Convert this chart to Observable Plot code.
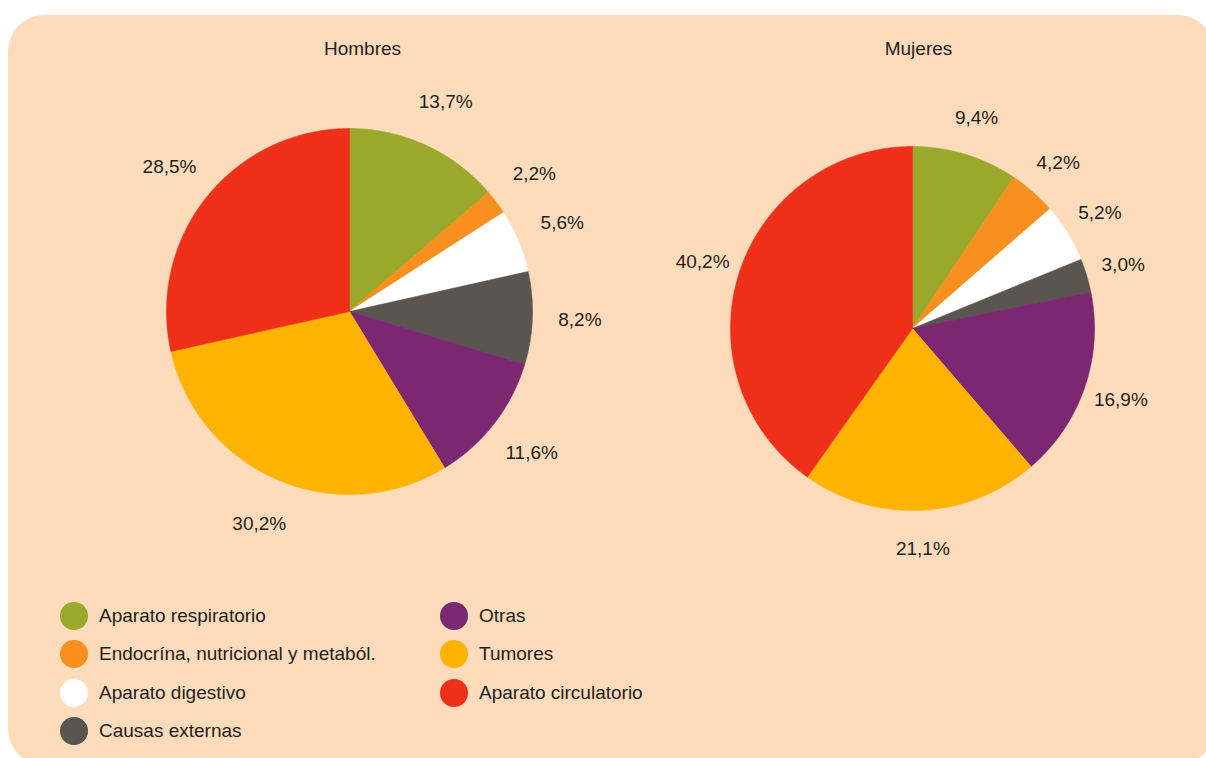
<!DOCTYPE html>
<html>
<head>
<meta charset="utf-8">
<script src="https://cdn.jsdelivr.net/npm/d3@7"></script>
<script src="https://cdn.jsdelivr.net/npm/@observablehq/plot@0.6"></script>
<style>
  html, body { margin: 0; padding: 0; background: #ffffff; width: 1206px; height: 758px; overflow: hidden; }
  #box { position: absolute; left: 8px; top: 15px; width: 1206px; height: 750px; background: #FEDBBB; border-radius: 36px; }
  #chart { position: absolute; left: 0; top: 0; }
  #legend { position: absolute; left: 60px; top: 597px; display: grid; grid-template-columns: 380px 260px; grid-auto-flow: column; grid-template-rows: repeat(4, 38.3px);
            font-family: "Liberation Sans", Arial, sans-serif; font-size: 19px; color: #231f20; }
  .item { display: flex; align-items: center; }
  .sw { width: 28px; height: 28px; border-radius: 50%; margin-right: 11px; flex: none; }
</style>
</head>
<body>
<div id="box"></div>
<div id="chart"></div>
<div id="legend"></div>
<script>
// ---- data ----
const categories = ["Aparato respiratorio", "Endocrína, nutricional y metaból.", "Aparato digestivo", "Causas externas", "Otras", "Tumores", "Aparato circulatorio"];
const hombres = [13.7, 2.2, 5.6, 8.2, 11.6, 30.2, 28.5];
const mujeres = [9.4, 4.2, 5.2, 3.0, 16.9, 21.1, 40.2];
const groups = ["Hombres", "Mujeres"];

// ---- styles / layout ----
const colors = ["#9AA92B", "#F7901E", "#FFFFFF", "#5A5551", "#7B2772", "#FDB300", "#EE3019"];
const layout = {
  Hombres: {cx: 349, cy: 311, r: 183, tx: 362, lr: 1.26},
  Mujeres: {cx: 912, cy: 328, r: 182, tx: 918, lr: 1.21}
};
const W = 1206, H = 580;

const pie = d3.pie().sort(null).value(d => d.value);
const polys = [], labels = [], titles = [];
groups.forEach((g, gi) => {
  const vals = gi === 0 ? hombres : mujeres;
  const L = layout[g];
  const arcs = pie(categories.map((c, i) => ({category: c, value: vals[i]})));
  arcs.forEach(a => {
    const id = g + "|" + a.data.category;
    polys.push({id, category: a.data.category, x: L.cx, y: L.cy});
    const n = Math.max(2, Math.ceil((a.endAngle - a.startAngle) / (Math.PI / 720)));
    for (let k = 0; k <= n; k++) {
      const t = a.startAngle + (a.endAngle - a.startAngle) * k / n;
      polys.push({id, category: a.data.category, x: L.cx + L.r * Math.sin(t), y: L.cy - L.r * Math.cos(t)});
    }
    polys.push({id, category: a.data.category, x: L.cx, y: L.cy});
    const m = (a.startAngle + a.endAngle) / 2;
    const lr = L.r * L.lr;
    labels.push({x: L.cx + lr * Math.sin(m), y: L.cy - lr * Math.cos(m), text: a.data.value.toFixed(1).replace(".", ",") + "%"});
  });
  titles.push({x: L.tx, y: 48, text: g});
});

const chart = Plot.plot({
  width: W, height: H,
  margin: 0,
  style: {background: "transparent", fontFamily: "'Liberation Sans', Arial, sans-serif"},
  x: {domain: [0, W], range: [0, W], axis: null},
  y: {domain: [0, H], range: [0, H], axis: null},
  color: {domain: categories, range: colors},
  marks: [
    Plot.line(polys, {x: "x", y: "y", z: "id", fill: "category", stroke: "category", strokeWidth: 0.6, curve: "linear"}),
    Plot.text(labels, {x: "x", y: "y", text: "text", fontSize: 19, fill: "#231f20"}),
    Plot.text(titles, {x: "x", y: "y", text: "text", fontSize: 19, fill: "#231f20"})
  ]
});
document.getElementById("chart").appendChild(chart);

// legend
const leg = document.getElementById("legend");
categories.forEach((c, i) => {
  const it = document.createElement("div");
  it.className = "item";
  const sw = document.createElement("span");
  sw.className = "sw";
  sw.style.background = colors[i];
  const tx = document.createElement("span");
  tx.textContent = c;
  it.appendChild(sw); it.appendChild(tx);
  leg.appendChild(it);
});
</script>
</body>
</html>
